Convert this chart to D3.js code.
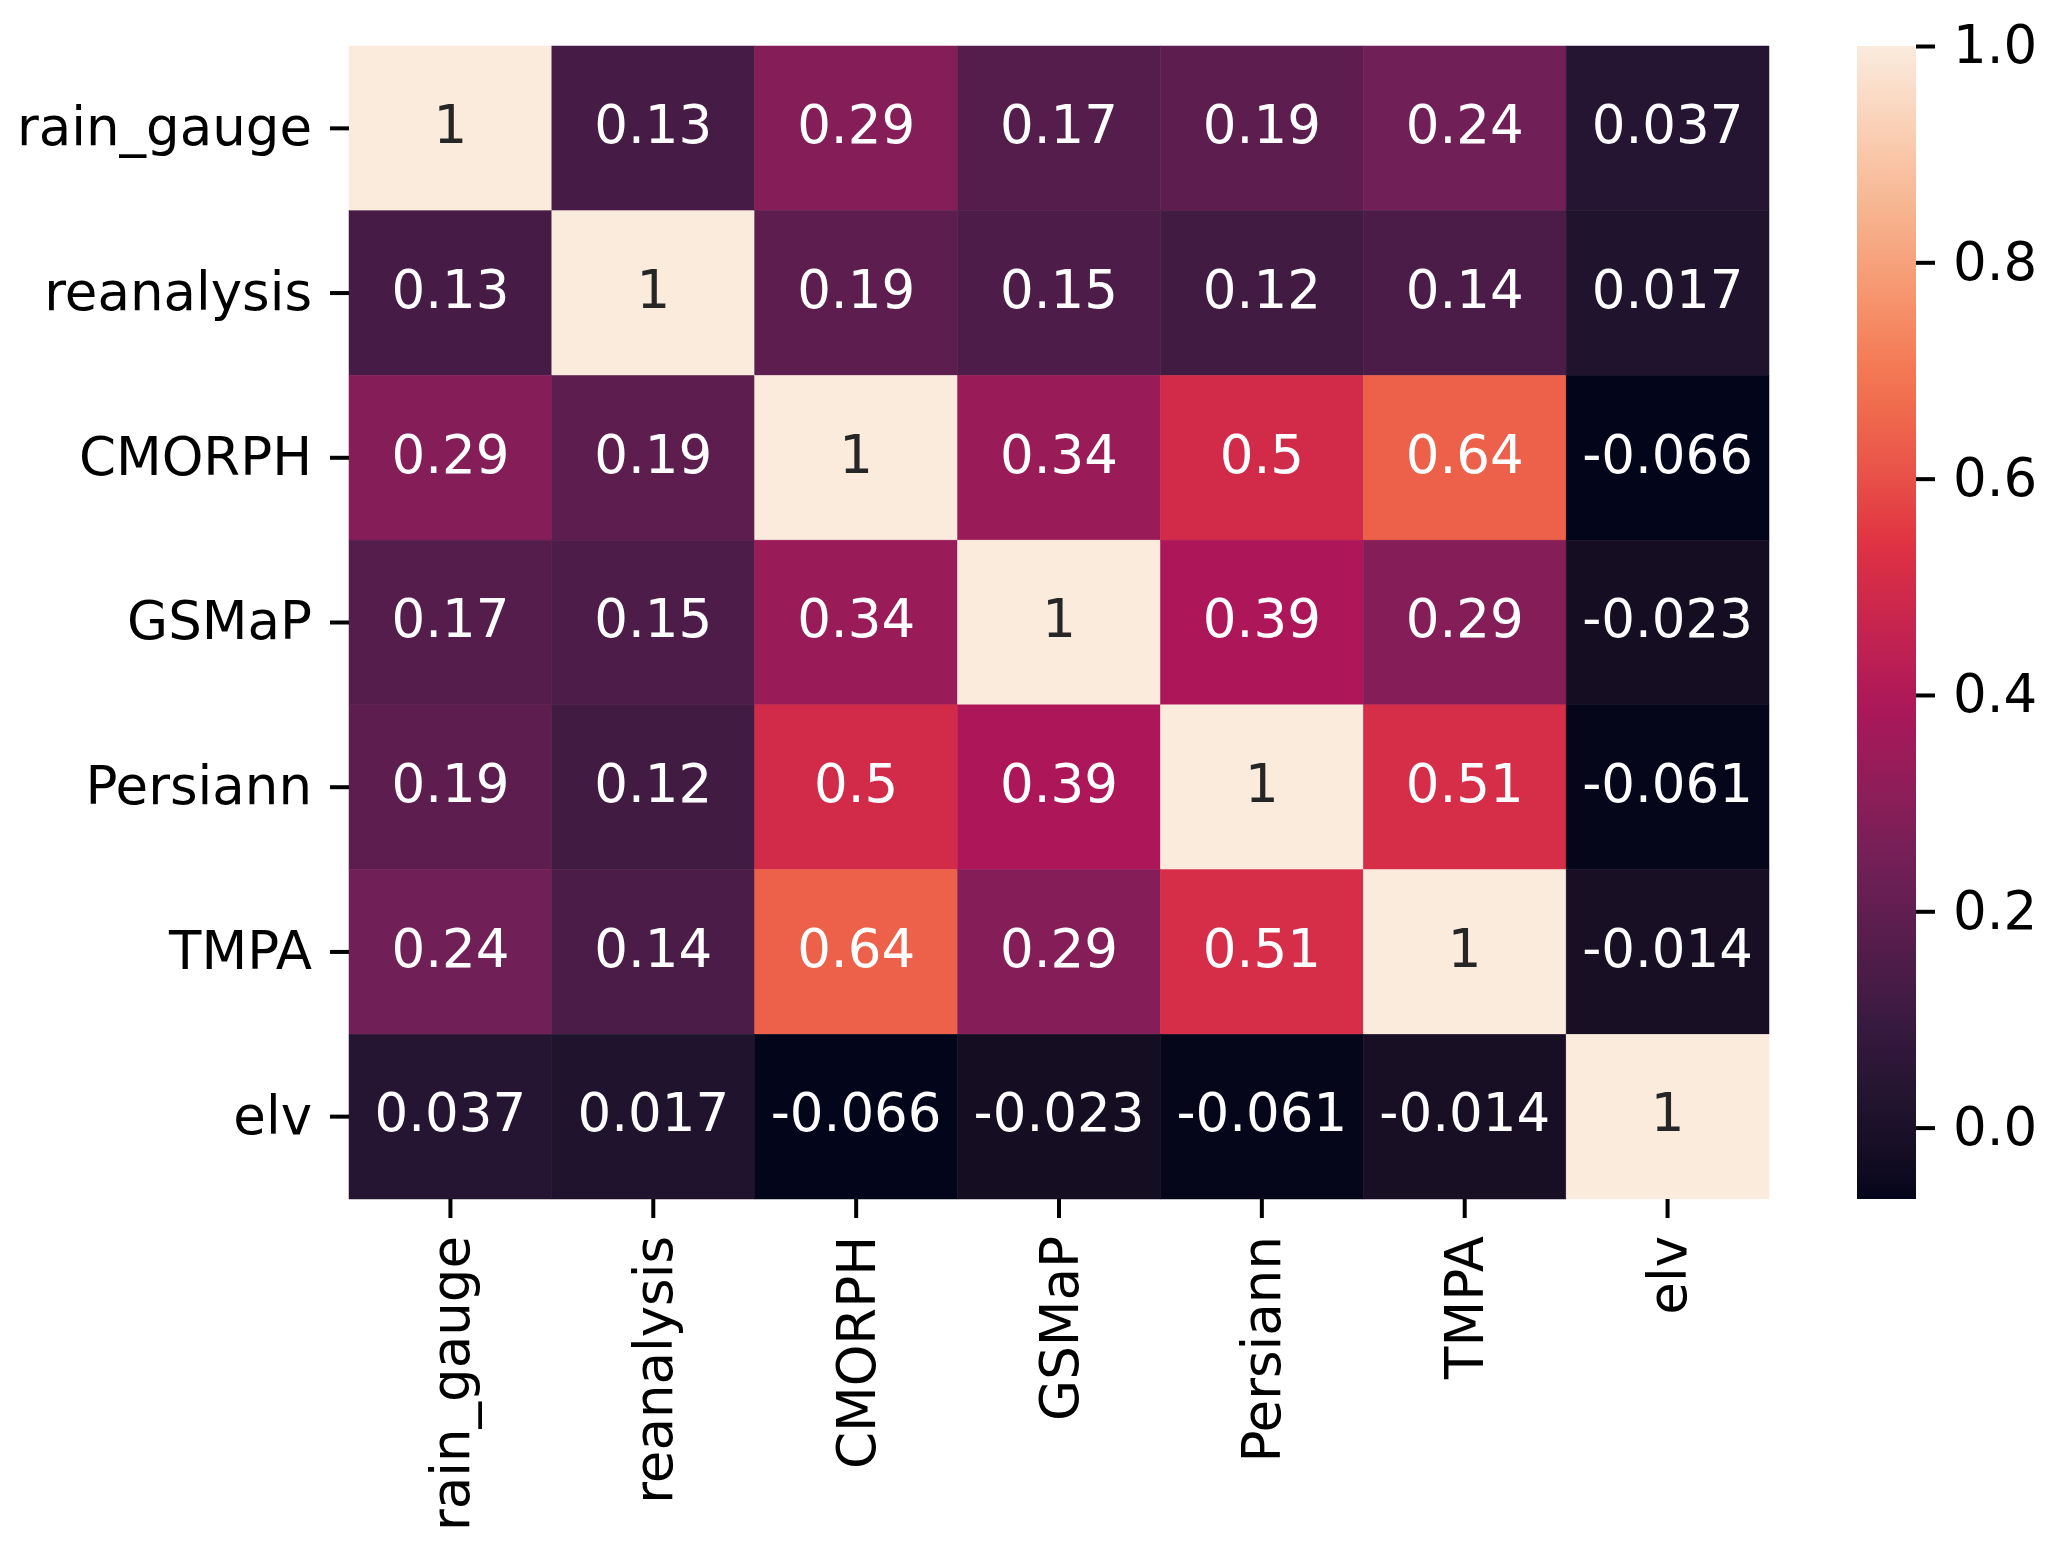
<!DOCTYPE html>
<html>
<head>
  <meta charset="utf-8">
  <script src="https://cdn.jsdelivr.net/npm/d3@7"></script>
  <style>
    body { margin: 0; background: #fff; }
  </style>
</head>
<body>
  <svg id="chart" width="2071" height="1567"></svg>
  <script>
    // variables, same order on both axes
    const names = ["rain_gauge", "reanalysis", "CMORPH", "GSMaP", "Persiann", "TMPA", "elv"]

    // correlation rows
    const rainGauge  = [1, 0.13, 0.29, 0.17, 0.19, 0.24, 0.037]
    const reanalysis = [0.13, 1, 0.19, 0.15, 0.12, 0.14, 0.017]
    const cmorph     = [0.29, 0.19, 1, 0.34, 0.5, 0.64, -0.066]
    const gsmap      = [0.17, 0.15, 0.34, 1, 0.39, 0.29, -0.023]
    const persiann   = [0.19, 0.12, 0.5, 0.39, 1, 0.51, -0.061]
    const tmpa       = [0.24, 0.14, 0.64, 0.29, 0.51, 1, -0.014]
    const elv        = [0.037, 0.017, -0.066, -0.023, -0.061, -0.014, 1]

    const colorbarTicks = [0, 0.2, 0.4, 0.6, 0.8, 1.0]

    // seaborn "rocket" sampled at evenly spaced points
    const rocket = ["#03051a", "#35193e", "#701f57", "#ad1759",
                    "#e13342", "#f37651", "#f6b48f", "#faebdd"]

    const rows = [rainGauge, reanalysis, cmorph, gsmap, persiann, tmpa, elv]
    const cells = []
    rows.forEach((r, i) => r.forEach((v, j) => cells.push({row: names[i], col: names[j], v: v})))

    const vmin = d3.min(cells, d => d.v)
    const vmax = d3.max(cells, d => d.v)

    const mLeft = 349, mRight = 1769, mTop = 46, mBottom = 1199
    const font = "DejaVu Sans, Liberation Sans, sans-serif"
    const fs = 53

    const svg = d3.select("#chart")

    const x = d3.scaleBand().domain(names).range([mLeft, mRight])
    const y = d3.scaleBand().domain(names).range([mTop, mBottom])

    const ramp = d3.piecewise(d3.interpolateLab, rocket)
    const color = d3.scaleSequential(ramp).domain([vmin, vmax])

    const fmt = d3.formatLocale({decimal: ".", thousands: ",", grouping: [3],
                                 currency: ["", ""], minus: "-"}).format(".2~g")

    // seaborn picks the annotation colour from the cell luminance
    function lum(c) {
      const rgb = d3.rgb(c)
      const f = u => { u /= 255; return u <= 0.03928 ? u / 12.92 : Math.pow((u + 0.055) / 1.055, 2.4) }
      return 0.2126 * f(rgb.r) + 0.7152 * f(rgb.g) + 0.0722 * f(rgb.b)
    }

    svg.append("g")
      .selectAll("rect")
      .data(cells)
      .enter()
      .append("rect")
      .attr("x", d => x(d.col))
      .attr("y", d => y(d.row))
      .attr("width", x.bandwidth())
      .attr("height", y.bandwidth())
      .attr("fill", d => color(d.v))
      .attr("stroke", d => color(d.v))
      .attr("stroke-width", 0.5)

    svg.append("g")
      .selectAll("text")
      .data(cells)
      .enter()
      .append("text")
      .attr("x", d => x(d.col) + x.bandwidth() / 2)
      .attr("y", d => y(d.row) + y.bandwidth() / 2)
      .attr("dy", "0.28em")
      .attr("text-anchor", "middle")
      .style("font-family", font)
      .style("font-size", fs + "px")
      .attr("fill", d => lum(color(d.v)) > 0.408 ? "#262626" : "#ffffff")
      .text(d => fmt(d.v))

    function styleAxis(g) {
      g.select(".domain").remove()
      g.selectAll(".tick line").attr("stroke", "#000").attr("stroke-width", 4)
      g.selectAll(".tick text").attr("fill", "#000")
        .style("font-family", font).style("font-size", fs + "px")
    }

    svg.append("g")
      .attr("transform", `translate(${mLeft},0)`)
      .call(d3.axisLeft(y).tickSize(19).tickPadding(18))
      .call(styleAxis)

    const xa = svg.append("g")
      .attr("transform", `translate(0,${mBottom})`)
      .call(d3.axisBottom(x).tickSize(19).tickPadding(18))
      .call(styleAxis)
    xa.selectAll(".tick text")
      .attr("transform", "rotate(-90)")
      .attr("x", -37)
      .attr("y", 0)
      .attr("dy", "0.35em")
      .attr("text-anchor", "end")

    // colorbar
    const cbLeft = 1857, cbRight = 1916
    const cb = d3.scaleLinear().domain([vmin, vmax]).range([mBottom, mTop])

    const grad = svg.append("defs").append("linearGradient")
      .attr("id", "cbgrad")
      .attr("x1", 0).attr("y1", 1).attr("x2", 0).attr("y2", 0)
    grad.selectAll("stop")
      .data(d3.range(0, 1.0001, 1 / 64))
      .enter()
      .append("stop")
      .attr("offset", d => d)
      .attr("stop-color", d => ramp(d))

    svg.append("rect")
      .attr("x", cbLeft)
      .attr("y", mTop)
      .attr("width", cbRight - cbLeft)
      .attr("height", mBottom - mTop)
      .attr("fill", "url(#cbgrad)")

    svg.append("g")
      .attr("transform", `translate(${cbRight},0)`)
      .call(d3.axisRight(cb).tickValues(colorbarTicks).tickFormat(d3.format(".1f"))
              .tickSize(19).tickPadding(18))
      .call(styleAxis)
  </script>
</body>
</html>
